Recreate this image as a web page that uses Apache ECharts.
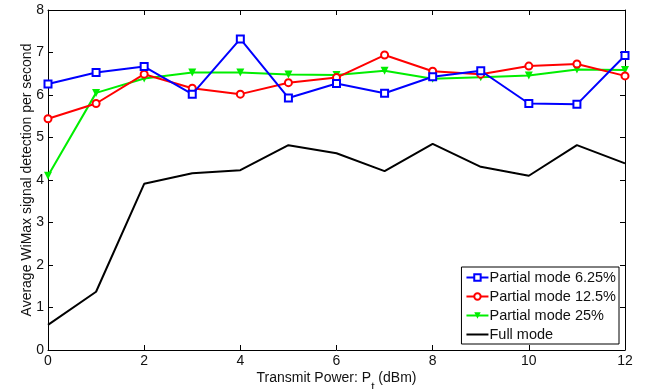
<!DOCTYPE html>
<html><head><meta charset="utf-8">
<script src="https://cdn.jsdelivr.net/npm/echarts@6/dist/echarts.min.js"></script>
<style>html,body{margin:0;padding:0;background:#fff}#c{width:645px;height:389px}</style>
</head><body><div id="c"></div>
<script>
var xValues = [0,1,2,3,4,5,6,7,8,9,10,11,12];
var partial625 = [6.26,6.53,6.67,6.02,7.32,5.93,6.27,6.04,6.43,6.57,5.80,5.78,6.93];
var partial125 = [5.44,5.80,6.49,6.16,6.02,6.29,6.41,6.94,6.56,6.49,6.68,6.73,6.45];
var partial25  = [4.10,6.05,6.39,6.53,6.53,6.48,6.47,6.57,6.38,6.42,6.46,6.60,6.59];
var fullMode   = [0.59,1.37,3.91,4.16,4.23,4.82,4.63,4.21,4.85,4.31,4.10,4.82,4.39];
var seriesNames = ['Partial mode 6.25%','Partial mode 12.5%','Partial mode 25%','Full mode'];

function pairs(v){ return xValues.map(function(x,i){ return [x, v[i]]; }); }
var font = 'Liberation Sans, Arial, sans-serif';
var chart = echarts.init(document.getElementById('c'));
function axisCommon(){ return {
  axisLine:{show:true,onZero:false,lineStyle:{color:'#000',width:1}},
  axisTick:{show:true,inside:true,length:5,lineStyle:{color:'#000'}},
  splitLine:{show:false}
};}
chart.setOption({
  animation:false,
  backgroundColor:'#fff',
  grid:{left:48,right:20,top:10,bottom:39,containLabel:false,outerBoundsMode:'none'},
  xAxis:[
    Object.assign({type:'value',min:0,max:12,interval:2,position:'bottom',
      axisLabel:{color:'#111',fontSize:14,fontFamily:font,margin:4},
      name:'Transmit Power: P{sub|t} (dBm)',nameLocation:'middle',nameGap:21,nameMoveOverlap:false,
      nameTextStyle:{color:'#111',fontSize:14,fontFamily:font,
        rich:{sub:{fontSize:12,fontFamily:font,color:'#111',verticalAlign:'bottom',padding:[0,0,-9,0]}}}
    },axisCommon()),
    Object.assign({type:'value',min:0,max:12,interval:2,position:'top',axisLabel:{show:false}},axisCommon())
  ],
  yAxis:[
    Object.assign({type:'value',min:0,max:8,interval:1,position:'left',
      axisLabel:{color:'#111',fontSize:14,fontFamily:font,margin:4},
      name:'Average WiMax signal detection per second',nameLocation:'middle',nameGap:14,nameMoveOverlap:false,
      nameTextStyle:{color:'#111',fontSize:14,fontFamily:font}
    },axisCommon()),
    Object.assign({type:'value',min:0,max:8,interval:1,position:'right',axisLabel:{show:false}},axisCommon())
  ],
  legend:{
    orient:'vertical',right:26,bottom:45,
    backgroundColor:'#fff',borderColor:'#000',borderWidth:1,borderRadius:0,
    padding:[3,3,2,4],itemGap:4,itemWidth:22,itemHeight:8,
    textStyle:{color:'#111',fontSize:14.5,fontFamily:font,padding:[0,0,0,-4]},
    data:[
      {name:seriesNames[0]},
      {name:seriesNames[1]},
      {name:seriesNames[2]},
      {name:seriesNames[3],icon:'path://M0,0L0.05,0M0,3L22,3L22,5L0,5ZM0,8L0.05,8'}
    ]
  },
  series:[
    {name:seriesNames[0],type:'line',data:pairs(partial625),symbol:'emptyRect',symbolSize:7,
      lineStyle:{color:'#0000ff',width:2},itemStyle:{color:'#0000ff',borderWidth:1.5},color:'#0000ff',z:4},
    {name:seriesNames[1],type:'line',data:pairs(partial125),symbol:'emptyCircle',symbolSize:7,
      lineStyle:{color:'#ff0000',width:2},itemStyle:{color:'#ff0000',borderWidth:1.5},color:'#ff0000',z:3},
    {name:seriesNames[2],type:'line',data:pairs(partial25),symbol:'triangle',symbolRotate:180,symbolSize:8,
      lineStyle:{color:'#00ee00',width:2},itemStyle:{color:'#00ee00'},color:'#00ee00',z:2},
    {name:seriesNames[3],type:'line',data:pairs(fullMode),symbol:'none',
      lineStyle:{color:'#000',width:2},itemStyle:{color:'#000'},color:'#000',z:1}
  ]
});
</script></body></html>
